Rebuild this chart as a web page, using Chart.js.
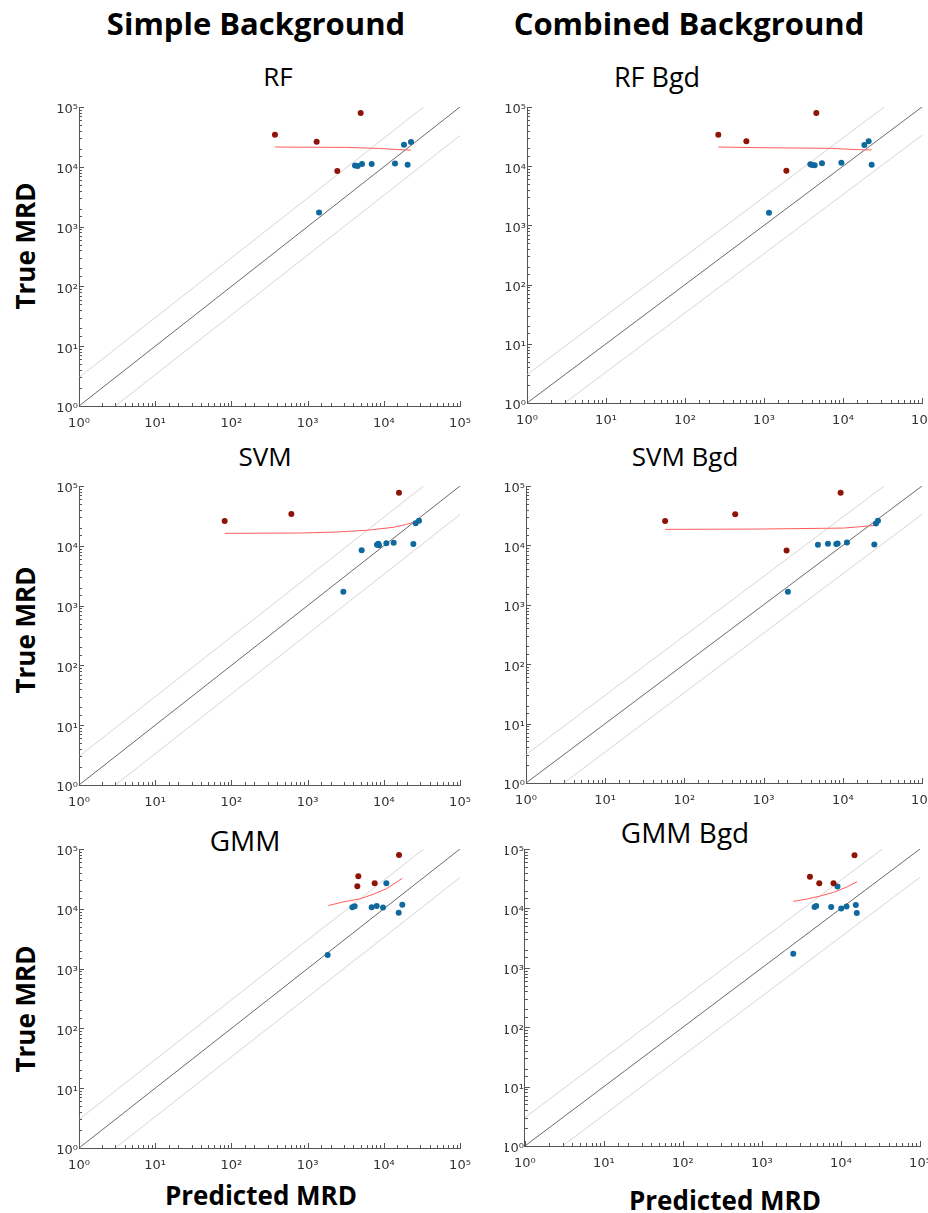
<!DOCTYPE html>
<html>
<head>
<meta charset="utf-8">
<script src="https://cdn.jsdelivr.net/npm/chart.js@4.4.1/dist/chart.umd.min.js"></script>
<style>
body { margin:0; background:#fff; width:928px; height:1213px; position:relative; overflow:hidden; font-family:"Open Sans", sans-serif; }
.t { position:absolute; white-space:nowrap; color:#000; line-height:1; transform:translateX(-50%); }
.b { font-weight:700; }
.rot { position:absolute; white-space:nowrap; color:#000; line-height:1; font-weight:700; transform:translate(-50%,-50%) rotate(-90deg); }
canvas { position:absolute; }
</style>
</head>
<body>

<div class="t b" style="left:256px; top:8px; font-size:31px;">Simple Background</div>
<div class="t b" style="left:689px; top:8px; font-size:31px;">Combined Background</div>

<div class="t" style="left:278px; top:63px; font-size:26px;">RF</div>
<div class="t" style="left:657px; top:63px; font-size:27px;">RF Bgd</div>
<div class="t" style="left:265px; top:443px; font-size:26px;">SVM</div>
<div class="t" style="left:685px; top:443px; font-size:26px;">SVM Bgd</div>
<div class="t" style="left:245px; top:826px; font-size:28px;">GMM</div>
<div class="t" style="left:685px; top:818px; font-size:28px;">GMM Bgd</div>

<div class="rot" style="left:25px; top:246px; font-size:26px;">True MRD</div>
<div class="rot" style="left:25px; top:630px; font-size:26px;">True MRD</div>
<div class="rot" style="left:25px; top:1009px; font-size:26px;">True MRD</div>

<div class="t b" style="left:261px; top:1182px; font-size:26px;">Predicted MRD</div>
<div class="t b" style="left:725px; top:1187px; font-size:26px;">Predicted MRD</div>

<canvas id="c1"></canvas>
<canvas id="c2"></canvas>
<canvas id="c3"></canvas>
<canvas id="c4"></canvas>
<canvas id="c5"></canvas>
<canvas id="c6"></canvas>

<script>
'use strict';

// reference lines (y = x, y = 3x, y = x/3)
var diagX = [1, 100000];
var diagY = [1, 100000];
var upperX = [1, 33333];
var upperY = [3, 100000];
var lowerX = [3, 100000];
var lowerY = [1, 33333];

// RF
var rfRedX = [373, 1315, 2455, 4970];
var rfRedY = [34400, 26300, 8490, 79400];
var rfBlueX = [1412, 4190, 4540, 5175, 6930, 14030, 18400, 20560, 22750];
var rfBlueY = [1725, 10550, 10290, 11110, 11100, 11400, 23400, 10830, 25950];
var rfFitX = [373, 3256, 8480, 16320, 22750];
var rfFitY = [21400, 21100, 20300, 19300, 19050];

// RF Bgd
var rfbRedX = [264, 598, 1918, 4596];
var rfbRedY = [34100, 26300, 8410, 79200];
var rfbBlueX = [1157, 3857, 4052, 4378, 5420, 9530, 18620, 21120, 23070];
var rfbBlueY = [1641, 10760, 10480, 10330, 11170, 11480, 22800, 26300, 10610];
var rfbFitX = [264, 856, 6910, 15790, 23070];
var rfbFitY = [21100, 20550, 20030, 19000, 18770];

// SVM
var svmRedX = [81.6, 612, 15830];
var svmRedY = [26000, 34000, 77400];
var svmBlueX = [2944, 5125, 8145, 8480, 8650, 10800, 13470, 24420, 26200, 28970];
var svmBlueY = [1710, 8400, 10450, 10860, 10180, 11000, 11280, 10720, 23760, 26300];
var svmFitX = [81.6, 879, 2407, 5960, 13340, 19960, 26200];
var svmFitY = [16150, 16370, 17030, 18170, 20350, 22870, 25370];

// SVM Bgd
var svmbRedX = [57.1, 438, 1950, 9380];
var svmbRedY = [25700, 33300, 8240, 77200];
var svmbBlueX = [2026, 4850, 6490, 8270, 8600, 11280, 24990, 26220, 27800];
var svmbBlueY = [1656, 10260, 10670, 10520, 10810, 11240, 10400, 23480, 26050];
var svmbFitX = [57.1, 906, 10230, 16630, 25700];
var svmbFitY = [18620, 18850, 19580, 20640, 21740];

// GMM
var gmmRedX = [4495, 4630, 7590, 15830];
var gmmRedY = [23830, 35000, 26730, 79400];
var gmmBlueX = [1834, 3865, 4147, 6930, 8060, 9770, 10800, 15670, 17500];
var gmmBlueY = [1683, 10640, 11050, 10640, 11190, 10500, 26730, 8550, 11640];
var gmmFitX = [1871, 2944, 4870, 7290, 10910, 17500];
var gmmFitY = [11330, 13060, 14650, 17520, 21790, 32430];

// GMM Bgd
var gmmbRedX = [4045, 5310, 8050, 14830];
var gmmbRedY = [34200, 26390, 26390, 78200];
var gmmbBlueX = [2490, 4630, 4860, 7520, 9040, 10070, 11750, 15410, 15850];
var gmmbBlueY = [1722, 10520, 10950, 10520, 23480, 10000, 10810, 11380, 8340];
var gmmbFitX = [2490, 3706, 5460, 8050, 11860, 16030];
var gmmbFitY = [13120, 14360, 16150, 18620, 22890, 28140];

var sup = ['\u2070', '\u00B9', '\u00B2', '\u00B3', '\u2074', '\u2075'];

function isDecade(v) {
    var e = Math.log10(v);
    return Math.abs(e - Math.round(e)) < 1e-9;
}

function tickLabel(v) {
    if (isDecade(v)) return '10' + sup[Math.round(Math.log10(v))];
    return '';
}

function pts(xs, ys) {
    return xs.map(function (x, i) { return {x: x, y: ys[i]}; });
}

// MATLAB style ticks pointing into the plot
var inwardTicks = {
    id: 'inwardTicks',
    afterDraw: function (chart) {
        var ctx = chart.ctx, a = chart.chartArea;
        var sx = chart.scales.x, sy = chart.scales.y;
        ctx.save();
        ctx.strokeStyle = '#555';
        ctx.lineWidth = 1;
        sx.ticks.forEach(function (t) {
            var px = Math.round(sx.getPixelForValue(t.value)) + 0.5;
            var len = isDecade(t.value) ? 5 : 3;
            ctx.beginPath(); ctx.moveTo(px, a.bottom); ctx.lineTo(px, a.bottom - len); ctx.stroke();
        });
        sy.ticks.forEach(function (t) {
            var py = Math.round(sy.getPixelForValue(t.value)) + 0.5;
            var len = isDecade(t.value) ? 5 : 3;
            ctx.beginPath(); ctx.moveTo(a.left, py); ctx.lineTo(a.left + len, py); ctx.stroke();
        });
        ctx.restore();
    }
};

function axis(extra) {
    var o = {
        type: 'logarithmic',
        min: 1,
        max: 100000,
        grid: {display: false, drawTicks: false},
        border: {display: true, color: '#555', width: 1},
        ticks: {
            autoSkip: false,
            maxRotation: 0,
            color: '#333',
            font: {family: 'DejaVu Sans', size: 13},
            callback: tickLabel
        }
    };
    for (var k in extra) o[k] = extra[k];
    return o;
}

// g: plot box and canvas bounds in page pixels (right column canvases run past the page edge, body clips them)
function panel(id, g, redX, redY, blueX, blueY, fitX, fitY) {
    var cv = document.getElementById(id);
    var top = g.y0 - 14, bottom = g.y1 + 34;
    cv.width = g.right - g.left;
    cv.height = bottom - top;
    cv.style.left = g.left + 'px';
    cv.style.top = top + 'px';

    var xAxis = axis({afterFit: function (s) { s.height = bottom - g.y1; }});
    xAxis.ticks.padding = 10;
    var yAxis = axis({afterFit: function (s) { s.width = g.x0 - g.left; }});
    yAxis.ticks.padding = 1;
    yAxis.ticks.labelOffset = 3;

    new Chart(cv.getContext('2d'), {
        type: 'scatter',
        data: {
            datasets: [
                {data: pts(redX, redY), backgroundColor: '#8e1407', borderWidth: 0, pointRadius: 3, order: 1},
                {data: pts(blueX, blueY), backgroundColor: '#10699c', borderWidth: 0, pointRadius: 3, order: 1},
                {data: pts(fitX, fitY), showLine: true, borderColor: '#ff5c5c', borderWidth: 1, pointRadius: 0, order: 2},
                {data: pts(diagX, diagY), showLine: true, borderColor: '#444', borderWidth: 0.8, pointRadius: 0, order: 3},
                {data: pts(upperX, upperY), showLine: true, borderColor: '#cccccc', borderWidth: 0.8, pointRadius: 0, order: 3},
                {data: pts(lowerX, lowerY), showLine: true, borderColor: '#cccccc', borderWidth: 0.8, pointRadius: 0, order: 3}
            ]
        },
        options: {
            responsive: false,
            animation: false,
            events: [],
            layout: {autoPadding: false, padding: {top: g.y0 - top, right: g.right - g.x1, left: 0, bottom: 0}},
            plugins: {legend: {display: false}, tooltip: {enabled: false}},
            scales: {x: xAxis, y: yAxis}
        },
        plugins: [inwardTicks]
    });
}

panel('c1', {left: 0,   right: 495, x0: 79,  x1: 460, y0: 107, y1: 406}, rfRedX, rfRedY, rfBlueX, rfBlueY, rfFitX, rfFitY);
panel('c2', {left: 505, right: 957, x0: 527, x1: 922, y0: 107, y1: 403}, rfbRedX, rfbRedY, rfbBlueX, rfbBlueY, rfbFitX, rfbFitY);
panel('c3', {left: 0,   right: 495, x0: 79,  x1: 460, y0: 486, y1: 785}, svmRedX, svmRedY, svmBlueX, svmBlueY, svmFitX, svmFitY);
panel('c4', {left: 505, right: 957, x0: 526, x1: 922, y0: 486, y1: 783}, svmbRedX, svmbRedY, svmbBlueX, svmbBlueY, svmbFitX, svmbFitY);
panel('c5', {left: 0,   right: 495, x0: 79,  x1: 460, y0: 849, y1: 1148}, gmmRedX, gmmRedY, gmmBlueX, gmmBlueY, gmmFitX, gmmFitY);
panel('c6', {left: 504, right: 955, x0: 524, x1: 920, y0: 849, y1: 1146}, gmmbRedX, gmmbRedY, gmmbBlueX, gmmbBlueY, gmmbFitX, gmmbFitY);
</script>
</body>
</html>
